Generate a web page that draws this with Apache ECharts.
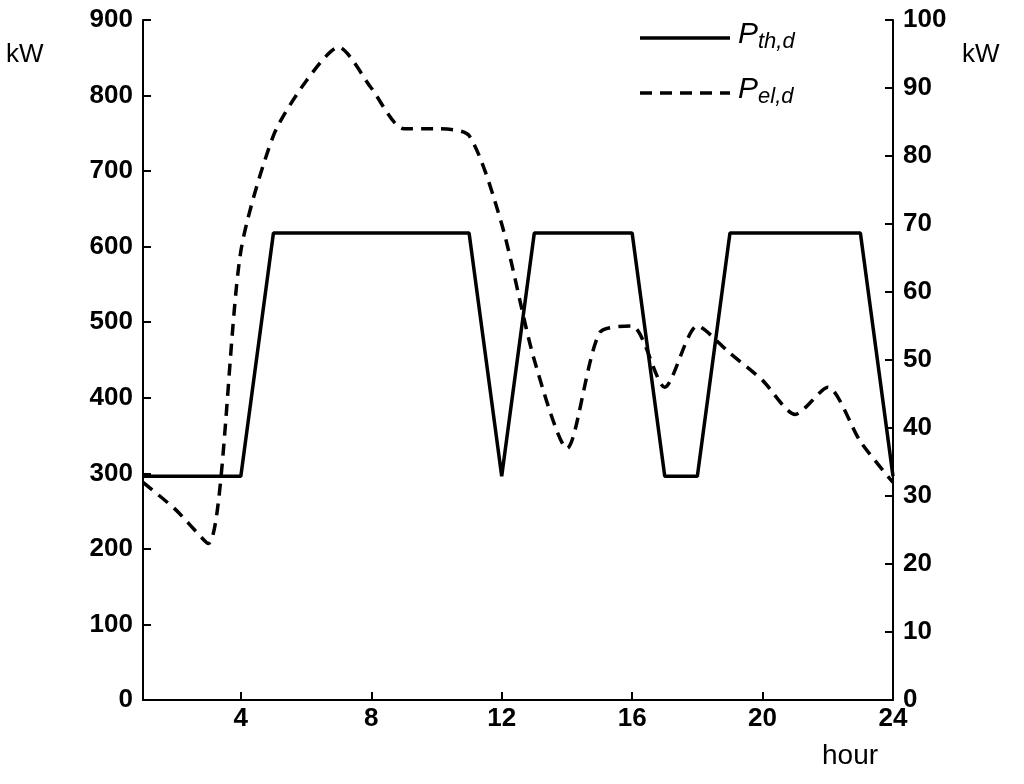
<!DOCTYPE html>
<html>
<head>
<meta charset="utf-8">
<style>
  body { margin: 0; background: #fff; }
  #main { width: 1024px; height: 784px; }
</style>
<script src="https://cdn.jsdelivr.net/npm/echarts@6/dist/echarts.min.js"></script>
</head>
<body>
<div id="main"></div>
<script>
// hours of the day
var hours = [1,2,3,4,5,6,7,8,9,10,11,12,13,14,15,16,17,18,19,20,21,22,23,24];
// thermal demand, kW (left axis)
var thermal = [296,296,296,296,618,618,618,618,618,618,618,296,618,618,618,618,296,296,618,618,618,618,618,296];
// electrical demand, kW (right axis)
var electric = [32,28,23,66,83,91,96,90,84,84,83,70,50,37,54,55,46,55,51,47,42,46,38,32];
var xTicks = [4,8,12,16,20,24];

function pairs(ys) { return hours.map(function (h, i) { return [h, ys[i]]; }); }

var font = 'Liberation Sans';
var black = '#000';
var lbl = { color: black, fontSize: 26, fontWeight: 'bold', fontFamily: font, margin: 10 };

var option = {
  animation: false,
  grid: { left: 143, right: 131, top: 20, bottom: 84 },
  xAxis: {
    type: 'value', min: 1, max: 24,
    axisLine: { lineStyle: { color: black, width: 2 } },
    axisTick: { inside: true, length: 8, customValues: xTicks, lineStyle: { color: black, width: 2 } },
    axisLabel: Object.assign({}, lbl, { customValues: xTicks, margin: 6 }),
    splitLine: { show: false }
  },
  yAxis: [{
    type: 'value', min: 0, max: 900, interval: 100, position: 'left',
    axisLine: { show: true, lineStyle: { color: black, width: 2 } },
    axisTick: { show: true, inside: true, length: 8, lineStyle: { color: black, width: 2 } },
    axisLabel: lbl,
    splitLine: { show: false }
  }, {
    type: 'value', min: 0, max: 100, interval: 10, position: 'right',
    axisLine: { show: true, lineStyle: { color: black, width: 2 } },
    axisTick: { show: true, inside: true, length: 8, lineStyle: { color: black, width: 2 } },
    axisLabel: lbl,
    splitLine: { show: false }
  }],
  series: [{
    name: 'Pth', type: 'line', yAxisIndex: 0, data: pairs(thermal),
    symbol: 'none', lineStyle: { color: black, width: 3.5 }
  }, {
    name: 'Pel', type: 'line', yAxisIndex: 1, data: pairs(electric), smooth: 0.25,
    symbol: 'none', lineStyle: { color: black, width: 3.5, type: [12, 8] }
  }],
  graphic: [
    { type: 'text', left: 6, top: 42, style: { text: 'kW', font: '26px ' + font, fill: black } },
    { type: 'text', left: 962, top: 42, style: { text: 'kW', font: '26px ' + font, fill: black } },
    { type: 'text', left: 822, top: 742, style: { text: 'hour', font: '28px ' + font, fill: black } },
    { type: 'line', shape: { x1: 640, y1: 38, x2: 730, y2: 38 }, style: { stroke: black, lineWidth: 3.5 } },
    { type: 'line', shape: { x1: 640, y1: 93, x2: 730, y2: 93 }, style: { stroke: black, lineWidth: 3.5, lineDash: [12, 8] } },
    { type: 'text', left: 738, top: 20, style: {
      text: '{p|P}{s|th,d}',
      rich: { p: { font: 'italic 30px ' + font, fill: black }, s: { font: 'italic 22px ' + font, fill: black, padding: [14, 0, 0, 0] } }
    } },
    { type: 'text', left: 738, top: 75, style: {
      text: '{p|P}{s|el,d}',
      rich: { p: { font: 'italic 30px ' + font, fill: black }, s: { font: 'italic 22px ' + font, fill: black, padding: [14, 0, 0, 0] } }
    } }
  ]
};

echarts.init(document.getElementById('main')).setOption(option);
</script>
</body>
</html>
